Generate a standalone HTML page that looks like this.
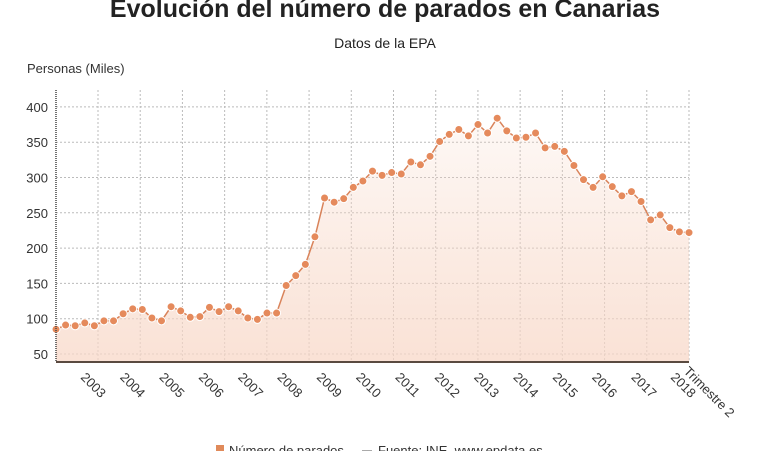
<!DOCTYPE html>
<html><head><meta charset="utf-8"><style>
body{margin:0;background:#fff;font-family:"Liberation Sans",sans-serif}
</style></head><body>
<svg id="c" width="770" height="451" xmlns="http://www.w3.org/2000/svg" style="display:block">
<defs><linearGradient id="g" x1="0" y1="0" x2="0" y2="1"><stop offset="0" stop-color="#f6d4c2" stop-opacity="0.15"/><stop offset="1" stop-color="#f8d8c8" stop-opacity="0.75"/></linearGradient></defs>
<text x="385" y="17" text-anchor="middle" font-size="25" font-weight="bold" fill="#222">Evolución del número de parados en Canarias</text>
<text x="385" y="48" text-anchor="middle" font-size="14" fill="#222">Datos de la EPA</text>
<text x="27" y="73" font-size="13" fill="#333">Personas (Miles)</text>
<g id="grid"></g><g id="marks"></g><g id="axes"></g>
<g>
<rect x="216" y="445" width="8" height="8" fill="#e08a5a"/>
<text x="229" y="455" font-size="13" fill="#333">Número de parados</text>
<line x1="362" y1="451" x2="372" y2="451" stroke="#555"/>
<text x="378" y="455" font-size="13" fill="#333">Fuente: INE, www.epdata.es</text>
</g>
</svg>
<script>
const years=["2003","2004","2005","2006","2007","2008","2009","2010","2011","2012","2013","2014","2015","2016","2017","2018"];
const yTicks=[50,100,150,200,250,300,350,400];
const values=[85,91,90,94,90,97,97,107,114,113,101,97,117,111,102,103,116,110,117,111,101,99,108,108,147,161,177,216,271,265,270,286,295,309,303,307,305,322,318,330,351,361,368,359,375,363,384,366,356,357,363,342,344,337,317,297,286,301,287,274,280,266,240,247,229,223,222];
const NS="http://www.w3.org/2000/svg";
const L=56,R=689,T=90,B=362;
const y=v=>354-(v-50)*35.3/50;
const x=i=>L+(R-L)*i/(values.length-1);
function mk(t,a,p){const e=document.createElementNS(NS,t);for(const k in a)e.setAttribute(k,a[k]);p.appendChild(e);return e;}
const grid=document.getElementById('grid'),marks=document.getElementById('marks'),axes=document.getElementById('axes');
yTicks.forEach(v=>{
 const l=mk('line',{x1:L,x2:R,y1:y(v),y2:y(v),stroke:'#bbb','stroke-dasharray':'2,2'},grid);
 
 
 const t=mk('text',{x:L-8,y:y(v)+5,'text-anchor':'end','font-size':13,fill:'#333'},axes);
 t.textContent=v;
 
 
});
const gx=j=>98+(R-98)*j/14;
years.forEach((yr,j)=>{
 if(j<15){
  const l=mk('line',{x1:gx(j),x2:gx(j),y1:T,y2:B,stroke:'#bbb','stroke-dasharray':'2,2'},grid);
  
  
 }
 const tx=80+(670-80)*j/15;
 const t=mk('text',{x:tx,y:378,'font-size':13,fill:'#333',transform:`rotate(45 ${tx} 378)`},axes);
 t.textContent=yr;
 
 
});
const tt=mk('text',{x:683,y:372,'font-size':13,fill:'#333',transform:'rotate(45 683 372)'},axes);
tt.textContent='Trimestre 2';


let d=values.map((v,i)=>(i?'L':'M')+x(i)+' '+y(v)).join(' ');
const area=mk('path',{d:d+` L${R} ${B} L${L} ${B} Z`,fill:'url(#g)'},marks);


const line=mk('path',{d:d,fill:'none',stroke:'#d9835a','stroke-width':1.5},marks);


values.forEach((v,i)=>{
 const c=mk('circle',{cx:x(i),cy:y(v),r:4,fill:'#e58a5c',stroke:'#fff','stroke-width':1},marks);
 
 
});
const xa=mk('line',{x1:L,x2:R,y1:B,y2:B,stroke:'#5a4a40','stroke-width':2},axes);


const ya=mk('line',{x1:L,x2:L,y1:T,y2:B,stroke:'#444','stroke-width':1.5,'stroke-dasharray':'1,1'},axes);


</script>
</body></html>
